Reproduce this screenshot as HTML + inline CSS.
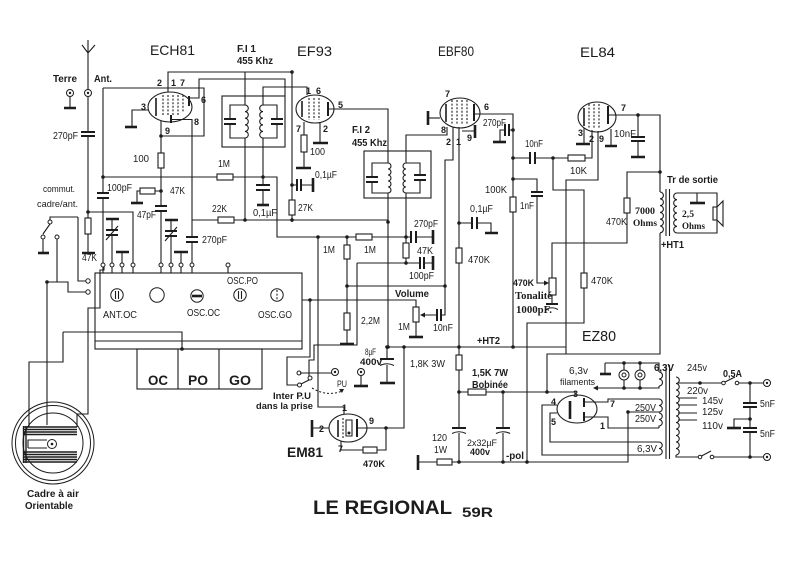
<!DOCTYPE html>
<html><head><meta charset="utf-8">
<style>
html,body{margin:0;padding:0;background:#fff;}
svg{display:block}
.w{fill:none;stroke:#1c1c1c;stroke-width:1.1}
.g{fill:none;stroke:#1c1c1c;stroke-width:2.6}
.p{fill:none;stroke:#1c1c1c;stroke-width:2}
.r{fill:#fff;stroke:#1c1c1c;stroke-width:1.1}
.d{fill:#1c1c1c}
.k{fill:none;stroke:#1c1c1c;stroke-width:1}
.h{fill:none;stroke:#1c1c1c;stroke-width:1.1;stroke-dasharray:2,1.6}
text{font-family:"Liberation Sans",Arial,sans-serif;fill:#1c1c1c}
.s{font-family:"Liberation Serif","DejaVu Serif",serif}
.b{font-weight:bold}
.n{font-weight:bold;font-size:9px}
</style></head><body>
<svg width="800" height="562" viewBox="0 0 800 562" xmlns="http://www.w3.org/2000/svg">
<rect x="0" y="0" width="800" height="562" fill="#fff"/>

<!-- ===== Antenna / terre ===== -->
<path class="w" d="M88,40 V89.5 M82,45 L88,53 L95,45"/>
<circle cx="88" cy="93" r="3.5" class="k"/><circle cx="88" cy="93" r="1.2" class="d"/>
<circle cx="70" cy="93" r="3.5" class="k"/><circle cx="70" cy="93" r="1.2" class="d"/>
<path class="w" d="M70,96.5 V108 M88,96.5 V132 M88,136 V218 M88,212 H133 V263 M88,234 V252"/>
<path class="g" d="M64,108 H76 M82,253 H95"/>
<path class="p" d="M81,132 H95 M81,136 H95"/>
<rect class="r" x="85" y="218" width="6" height="16"/>

<!-- commut switch -->
<path class="w" d="M78,217 H50 V220 M78,217 V281 H85.5 M57,239.5 V282 M47,282 H68 V292 H85.5 M47,282 V425 M43,239.5 V253 M50,224 L43,234"/>
<circle cx="50" cy="222" r="2" class="k"/>
<circle cx="43" cy="237" r="2" class="k"/>
<circle cx="57" cy="237" r="2" class="k"/>
<circle cx="88" cy="281" r="2.2" class="k"/>
<circle cx="88" cy="292" r="2.2" class="k"/>
<path class="g" d="M38,253 H49"/>

<!-- cadre wires -->
<path class="w" d="M63,332 H182 V349 M63,332 V362 H29 V427 M104,267 V270 H100 V308 H88 V414 H77 V427"/>

<!-- cadre -->
<circle cx="53" cy="443" r="41" class="k"/>
<circle cx="53" cy="443" r="37.5" class="k"/>
<circle cx="53" cy="443" r="30" class="k"/>
<path fill="none" stroke="#1c1c1c" stroke-width="1.4" d="M23,427 H77 M23,429.5 H77 M23,432 H77 M23,434.5 H77 M23,452 H77 M23,454.5 H77 M23,457 H77 M23,459.5 H77 M23,462 H77 M23.5,426 V463 M26,426 V463"/>
<path class="w" d="M28,448 V440 H47 M28,448 H47"/>
<circle cx="52" cy="444" r="4.5" class="k"/><circle cx="52" cy="444" r="1.3" class="d"/>

<!-- switch box -->
<rect class="w" x="95" y="273" width="207" height="76"/>
<path class="w" d="M95,341 H302"/>
<circle cx="117" cy="295" r="6.2" class="k"/><path class="w" d="M115.5,291 V299 M118.5,291 V299"/>
<circle cx="157" cy="295" r="7.2" class="k"/>
<circle cx="197" cy="296" r="6.2" class="k"/><path class="g" d="M192,296 H202"/>
<circle cx="240" cy="295" r="6.2" class="k"/><path class="w" d="M238.5,291 V299 M241.5,291 V299"/>
<circle cx="277" cy="295" r="6.2" class="k"/><path class="h" d="M277,290 V300"/>

<!-- terminals -->
<g class="k">
<circle cx="103" cy="265" r="2"/><circle cx="112" cy="265" r="2"/><circle cx="122" cy="265" r="2"/><circle cx="133" cy="265" r="2"/>
<circle cx="161" cy="265" r="2"/><circle cx="171" cy="265" r="2"/><circle cx="181" cy="265" r="2"/><circle cx="192" cy="265" r="2"/>
<circle cx="228" cy="265" r="2"/>
</g>
<path class="w" d="M103,267 V273 M112,267 V273 M122,267 V273 M133,267 V273 M161,267 V273 M171,267 V273 M181,267 V273 M192,267 V273 M228,267 V273"/>

<!-- OC PO GO -->
<rect class="w" x="137" y="349" width="125" height="40"/>
<path class="w" d="M178,349 V389 M219,349 V389"/>

<!-- ===== ECH81 ===== -->
<ellipse cx="170" cy="107" rx="22" ry="15" class="w"/>
<path fill="none" stroke="#1c1c1c" stroke-width="1.6" d="M156,98 V116"/>
<path class="h" d="M163,95 V116 M168,95 V116 M173,95 V116 M178,95 V116 M183,95 V113"/>
<path class="p" d="M189,96 V106 M171,115 V123"/>
<path class="w" d="M171,119.5 H192 M168,92 V72 H292 M245,72 V105 M189,98 H199 V79 H285 V96 M103,88 H204 V136 H161"/>
<path class="w" d="M148,110 H132 V126"/><path class="g" d="M125,127 H137"/>
<path class="w" d="M161,121 V153 M161,168 V206 M161,211 V263"/>
<rect class="r" x="158" y="153" width="6" height="15"/>
<path class="p" d="M155,206 H167 M155,211 H167"/>
<path class="w" d="M192,119 V237 M192,242 V263"/>
<path class="p" d="M186,237 H198 M186,242 H198"/>
<path class="w" d="M161,191 H155 M140,191 H137 V202"/>
<rect class="r" x="140" y="188" width="15" height="6"/>
<path class="g" d="M131,203 H143"/>
<path class="w" d="M103,88 V193 M103,198 V263"/>
<path class="p" d="M97,193 H109 M97,198 H109"/>
<path class="w" d="M103,177 H217 M233,177 H277 V237 H356 M372,237 H411 M416,237 H433"/>
<rect class="r" x="217" y="174" width="16" height="6"/>
<rect class="r" x="356" y="234" width="16" height="6"/>
<path class="p" d="M411,231 V243 M416,231 V243"/>
<path class="g" d="M433,230 V244"/>
<path class="w" d="M263,138 V185 M263,190 V204"/>
<path class="p" d="M256,185 H270 M256,190 H270"/>
<path class="g" d="M257,205 H269"/>
<path class="w" d="M192,220 H218 M234,220 H388 M245,138 V220"/>
<rect class="r" x="218" y="217" width="16" height="6"/>
<!-- trimmers & grounds -->
<path class="g" d="M106,219 H119 M165,220 H178 M116,252 H129 M174,252 H188"/>
<path class="w" d="M112,219 V230 M112,235 V263 M171,220 V231 M171,236 V263 M122,252 V263 M181,252 V263 M106,240 L118,226 M165,241 L177,227"/>
<path class="p" d="M106,230 H118 M106,235 H118 M165,231 H177 M165,236 H177"/>

<!-- FI1 -->
<rect class="w" x="222" y="96" width="63" height="51"/>
<path class="w" d="M245,105 H230 V119 M230,124 V138 H245 M263,105 H277 V119 M277,124 V138 H263 M263,105 V87 H307 V95"/>
<path class="p" d="M224,119 H236 M224,124 H236 M271,119 H283 M271,124 H283"/>
<path class="w" d="M245,105 a3.3,3.3 0 0 1 0,6.6 a3.3,3.3 0 0 1 0,6.6 a3.3,3.3 0 0 1 0,6.6 a3.3,3.3 0 0 1 0,6.6 a3.3,3.3 0 0 1 0,6.6"/>
<path class="w" d="M263,105 a3.3,3.3 0 0 0 0,6.6 a3.3,3.3 0 0 0 0,6.6 a3.3,3.3 0 0 0 0,6.6 a3.3,3.3 0 0 0 0,6.6 a3.3,3.3 0 0 0 0,6.6"/>

<!-- ===== EF93 ===== -->
<ellipse cx="315" cy="109" rx="19" ry="14" class="w"/>
<path fill="none" stroke="#1c1c1c" stroke-width="1.6" d="M302,101 V117"/>
<path class="h" d="M309,98 V120 M314,98 V120 M319,98 V120"/>
<path class="p" d="M328,102 V116"/>
<path class="w" d="M328,109 H388 V163 M304,122 V135 M304,152 V167 M320,122 V143 M292,72 V200 M292,215 V222 M292,185 H297 M301,185 H313"/>
<rect class="r" x="301" y="135" width="6" height="17"/>
<rect class="r" x="289" y="200" width="6" height="15"/>
<path class="g" d="M296,168 H311 M313,143 H328 M313,178 V192"/>
<path class="p" d="M297,179 V191 M301,179 V191"/>

<!-- FI2 -->
<rect class="w" x="364" y="151" width="67" height="47"/>
<path class="w" d="M388,163 H372 V177 M372,182 V193 H388 M406,163 H420 V175 M420,180 V193 H406"/>
<path class="p" d="M366,177 H378 M366,182 H378 M414,175 H426 M414,180 H426"/>
<path class="w" d="M388,163 a3,3 0 0 1 0,6 a3,3 0 0 1 0,6 a3,3 0 0 1 0,6 a3,3 0 0 1 0,6 a3,3 0 0 1 0,6"/>
<path class="w" d="M406,163 a3,3 0 0 0 0,6 a3,3 0 0 0 0,6 a3,3 0 0 0 0,6 a3,3 0 0 0 0,6 a3,3 0 0 0 0,6"/>
<path class="w" d="M388,193 V347 M406,163 V135 H447 V127 M406,193 V243 M406,258 V263 M357,263 H420 M424,263 H433"/>
<rect class="r" x="403" y="243" width="6" height="15"/>
<path class="p" d="M420,257 V269 M424,257 V269"/>
<path class="g" d="M433,256 V270"/>
<path class="w" d="M347,237 V245 M347,259 V313 M347,330 V343 M347,286 H445"/>
<rect class="r" x="344" y="245" width="6" height="14"/>
<rect class="r" x="344" y="313" width="6" height="17"/>
<path class="g" d="M340,344 H354"/>

<!-- volume -->
<path class="w" d="M453,127 V160 H445 V315 H441 M437,315 H423 M302,300 H416 V307 M416,322 V336"/>
<path class="p" d="M437,309 V321 M441,309 V321"/>
<polygon points="420,315 425,312.5 425,317.5" class="d"/>
<rect class="r" x="413" y="307" width="6" height="15"/>
<path class="g" d="M409,337 H423"/>

<!-- left vertical wires / inter PU -->
<path class="w" d="M318,237 V407 H344 V414 M357,263 V345 H314 V360 H309 V376 M310,300 V357 H287 V385 H297.5 M300,373 H331.5"/>
<circle cx="299" cy="373" r="2" class="k"/>
<circle cx="310" cy="378" r="2" class="k"/>
<circle cx="299.5" cy="385" r="2" class="k"/>
<path class="w" d="M301,384 L309,380"/>
<path class="w" stroke-dasharray="2,2" d="M312,388 Q327,397 342,391"/>
<polygon points="344,389 339,389 342,393" class="d"/>
<circle cx="335" cy="372" r="3.5" class="k"/><circle cx="335" cy="372" r="1.2" class="d"/>
<circle cx="361" cy="372" r="3.5" class="k"/><circle cx="361" cy="372" r="1.2" class="d"/>
<path class="w" d="M361,375.5 V385"/><path class="g" d="M354,386 H368"/>

<!-- EM81 -->
<ellipse cx="348" cy="428" rx="19" ry="14" class="w"/>
<path fill="none" stroke="#1c1c1c" stroke-width="1.6" d="M338,420 V437"/>
<path class="h" d="M343,418 V438"/>
<path class="w" d="M346,420 H352 V436 H346 Z"/>
<path class="p" d="M357,419 V437"/>
<circle cx="349" cy="433" r="1.5" class="d"/>
<path class="w" d="M329,428 H313 M357,428 H404 V347 M386,428 V450 H377 M363,450 H341 V441"/>
<path class="g" d="M312,420 V437"/>
<rect class="r" x="363" y="447" width="14" height="6"/>

<!-- 8uF -->
<path class="w" d="M387,347 V359 M387,365 V382"/>
<path class="p" d="M380,359 H394"/>
<path class="w" stroke-width="1.6" d="M380,365.5 Q387,362 394,365.5"/>
<path class="g" d="M380,383 H395"/>

<!-- HT2 -->
<path class="w" d="M387,347 H566"/>

<!-- ===== EBF80 ===== -->
<ellipse cx="460" cy="113" rx="20" ry="15" class="w"/>
<path fill="none" stroke="#1c1c1c" stroke-width="1.6" d="M446,104 V122"/>
<path class="h" d="M452,100 V124 M457,100 V124 M462,100 V124 M467,100 V124"/>
<path class="p" d="M474,104 V121"/>
<path class="w" d="M440,118 H428"/><path class="g" d="M428,111 V125"/>
<path class="w" d="M474,114 H513 V197 M513,212 V347 M513,130 H509 M505,130 H500 V142"/>
<path class="p" d="M509,124 V136 M505,124 V136"/>
<path class="g" d="M493,142 H506"/>
<rect class="r" x="510" y="197" width="6" height="15"/>
<path class="w" d="M459,127 V248 M459,263 V355 M459,370 V428 M459,433 V462 M459,223 H472 M477,223 H491 V233 M462,131 H474"/>
<rect class="r" x="456" y="248" width="6" height="15"/>
<path class="p" d="M472,217 V229 M477,217 V229"/>
<path class="g" d="M485,233 H498 M475,125 V138"/>

<!-- coupling to EL84 -->
<path class="w" d="M513,158 H530 M535,158 H568 M585,158 H592 V130 M553,158 V190 H584 V273 M584,288 V323 H527 V462"/>
<path class="p" d="M530,152 V164 M535,152 V164"/>
<rect class="r" x="568" y="155" width="17" height="6"/>
<rect class="r" x="581" y="273" width="6" height="15"/>
<!-- tone -->
<path class="w" d="M513,179 H537 V192 M537,196 V283 H545 M552,278 V243 H627 V213 M627,198 V172 H660 M552,295 V304"/>
<path class="p" d="M531,192 H543 M531,196 H543 M546,304 H558"/>
<path class="w" stroke-width="1.6" d="M546,309.5 Q552,306 558,309.5"/>
<polygon points="549,283 544,280.5 544,285.5" class="d"/>
<rect class="r" x="549" y="278" width="7" height="17"/>
<rect class="r" x="624" y="198" width="6" height="15"/>

<!-- ===== EL84 ===== -->
<ellipse cx="597" cy="117" rx="19" ry="15" class="w"/>
<path fill="none" stroke="#1c1c1c" stroke-width="1.6" d="M584,108 V126"/>
<path class="h" d="M589,104 V128 M594,104 V128 M599,104 V128"/>
<path class="p" d="M608,106 V124"/>
<path class="w" d="M608,115 H660 V192 M638,115 V137 M638,141 V156 M584,128 V143 M611,129 V146 M598,131 V180 H566 V354"/>
<path class="p" d="M631,137 H645 M631,141 H645"/>
<path class="g" d="M631,157 H645 M576,144 H590 M605,146 H617"/>

<!-- output transformer -->
<path class="w" d="M660,192 a3.4,3.4 0 0 1 0,6.8 a3.4,3.4 0 0 1 0,6.8 a3.4,3.4 0 0 1 0,6.8 a3.4,3.4 0 0 1 0,6.8 a3.4,3.4 0 0 1 0,6.8 a3.4,3.4 0 0 1 0,6.8"/>
<path class="w" d="M677,193 a3.33,3.33 0 0 0 0,6.66 a3.33,3.33 0 0 0 0,6.66 a3.33,3.33 0 0 0 0,6.66 a3.33,3.33 0 0 0 0,6.66 a3.33,3.33 0 0 0 0,6.66 a3.33,3.33 0 0 0 0,6.66"/>
<path class="w" stroke-width="1.3" d="M666,189 V236 M669.5,189 V236"/>
<path class="w" d="M660,233 V354 H547 V392 M677,193 H717 V207 M677,233 H717 V220 M697,193 V203"/>
<path class="g" d="M690,203 H705"/>
<rect class="r" x="713" y="207" width="4" height="13"/>
<polygon points="717,207 723,201 723,226 717,220" fill="#fff" stroke="#1c1c1c" stroke-width="1.1"/>

<!-- ===== power supply ===== -->
<rect class="r" x="456" y="355" width="6" height="15"/>
<path class="p" d="M452,428 H466"/>
<path class="w" stroke-width="1.6" d="M452,433.5 Q459,430 466,433.5"/>
<path class="w" d="M459,392 H468 M486,392 H575 V395 M503,392 V428 M503,433 V462 M418,462 H437 M452,462 H628 V412 H659"/>
<rect class="r" x="468" y="389" width="18" height="6"/>
<path class="p" d="M496,428 H510"/>
<path class="w" stroke-width="1.6" d="M496,433.5 Q503,430 510,433.5"/>
<rect class="r" x="437" y="459" width="15" height="6"/>
<path class="g" d="M418,455 V470"/>

<!-- EZ80 -->
<ellipse cx="577" cy="409" rx="20" ry="14" class="w"/>
<path class="g" d="M570,401 V419"/>
<path class="p" d="M584,398 V407 M584,412 V421"/>
<path class="w" d="M584,402 H608 V399 H659 M584,417 H608 V428 H659 M557,405 H542 V455 H659 M557,413 H550 V442 H659"/>

<!-- filament box -->
<path class="w" d="M605,363 H659 V372 M659,386 V388 H597 M624,363 V370 M624,380 V388 M640,363 V370 M640,380 V388 M605,363 V373"/>
<polygon points="593,388 598,385.5 598,390.5" class="d"/>
<circle cx="624" cy="375" r="5" class="k"/><circle cx="624" cy="375" r="2" class="k"/>
<circle cx="640" cy="375" r="5" class="k"/><circle cx="640" cy="375" r="2" class="k"/>
<path class="g" d="M600,374 H611"/>

<!-- power transformer secondaries -->
<path class="w" d="M659,372 a3.5,3.5 0 0 1 0,7 a3.5,3.5 0 0 1 0,7"/>
<path class="w" d="M659,399 a3.25,3.25 0 0 1 0,6.5 a3.25,3.25 0 0 1 0,6.5"/>
<path class="w" d="M659,413 a3.25,3.25 0 0 1 0,6.5 a3.25,3.25 0 0 1 0,6.5 V428"/>
<path class="w" d="M659,442 a3.25,3.25 0 0 1 0,6.5 a3.25,3.25 0 0 1 0,6.5"/>
<path class="w" stroke-width="1.3" d="M666,365 V459 M669.5,365 V459"/>
<path class="w" d="M676,377 a3.25,3.25 0 0 1 0,6.5 a3.25,3.25 0 0 1 0,6.5 a3.25,3.25 0 0 1 0,6.5 a3.25,3.25 0 0 1 0,6.5 a3.25,3.25 0 0 1 0,6.5 a3.25,3.25 0 0 1 0,6.5 a3.25,3.25 0 0 1 0,6.5 a3.25,3.25 0 0 1 0,6.5 a3.25,3.25 0 0 1 0,6.5 a3.25,3.25 0 0 1 0,6.5 a3.25,3.25 0 0 1 0,6.5 a3.25,3.25 0 0 1 0,6.5"/>
<path class="w" d="M678,383 H722 M678,398 H697 M678,405 H697 M678,413 H697 M678,420 H697 M739,383 H763.5 M750,383 V403 M750,407 V428 M750,432 V457 M750,419 H734 V428 M676,455 V457 H698 M714,457 H763.5 M725,382 L735,377"/>
<circle cx="723.5" cy="383" r="1.8" class="k"/><circle cx="737" cy="383" r="1.8" class="k"/>
<path class="p" d="M743,403 H757 M743,407 H757 M743,428 H757 M743,432 H757"/>
<path class="g" d="M727,428 H741"/>
<circle cx="700" cy="457" r="1.8" class="k"/><circle cx="712" cy="457" r="1.8" class="k"/>
<path class="w" d="M701.5,456 L711,451"/>
<circle cx="767" cy="383" r="3.5" class="k"/><circle cx="767" cy="383" r="1.2" class="d"/>
<circle cx="767" cy="457" r="3.5" class="k"/><circle cx="767" cy="457" r="1.2" class="d"/>

<!-- junction dots -->
<g class="d">
<circle cx="88" cy="212" r="1.8"/><circle cx="161" cy="136" r="1.8"/><circle cx="161" cy="191" r="1.8"/>
<circle cx="103" cy="177" r="1.8"/><circle cx="263" cy="177" r="1.8"/><circle cx="245" cy="220" r="1.8"/>
<circle cx="292" cy="72" r="1.8"/><circle cx="292" cy="185" r="1.8"/><circle cx="292" cy="220" r="1.8"/>
<circle cx="388" cy="222" r="1.8"/><circle cx="318" cy="237" r="1.8"/><circle cx="347" cy="237" r="1.8"/>
<circle cx="406" cy="237" r="1.8"/><circle cx="406" cy="263" r="1.8"/><circle cx="347" cy="286" r="1.8"/>
<circle cx="445" cy="286" r="1.8"/><circle cx="459" cy="223" r="1.8"/><circle cx="513" cy="130" r="1.8"/>
<circle cx="513" cy="158" r="1.8"/><circle cx="513" cy="179" r="1.8"/><circle cx="553" cy="158" r="1.8"/>
<circle cx="638" cy="115" r="1.8"/><circle cx="660" cy="172" r="1.8"/><circle cx="387" cy="347" r="1.8"/>
<circle cx="388" cy="347" r="1.8"/><circle cx="404" cy="347" r="1.8"/><circle cx="459" cy="347" r="1.8"/>
<circle cx="513" cy="347" r="1.8"/><circle cx="459" cy="392" r="1.8"/><circle cx="503" cy="392" r="1.8"/>
<circle cx="547" cy="392" r="1.8"/><circle cx="459" cy="462" r="1.8"/><circle cx="503" cy="462" r="1.8"/>
<circle cx="527" cy="462" r="1.8"/><circle cx="386" cy="428" r="1.8"/><circle cx="700" cy="383" r="1.8"/>
<circle cx="750" cy="383" r="1.8"/><circle cx="750" cy="419" r="1.8"/><circle cx="750" cy="457" r="1.8"/>
<circle cx="624" cy="363" r="1.8"/><circle cx="640" cy="363" r="1.8"/><circle cx="624" cy="388" r="1.8"/>
<circle cx="640" cy="388" r="1.8"/><circle cx="47" cy="282" r="1.8"/><circle cx="182" cy="349" r="1.8"/>
<circle cx="628" cy="412" r="1.8"/><circle cx="310" cy="300" r="1.8"/>
</g>

<!-- ===== TEXT ===== -->
<text x="150" y="55" font-size="14" textLength="45" lengthAdjust="spacingAndGlyphs">ECH81</text>
<text x="237" y="52" font-size="10" class="b" textLength="19" lengthAdjust="spacingAndGlyphs">F.I 1</text>
<text x="237" y="64" font-size="10" class="b" textLength="36" lengthAdjust="spacingAndGlyphs">455 Khz</text>
<text x="297" y="56" font-size="14" textLength="35" lengthAdjust="spacingAndGlyphs">EF93</text>
<text x="438" y="56" font-size="14" textLength="36" lengthAdjust="spacingAndGlyphs">EBF80</text>
<text x="580" y="57" font-size="14" textLength="35" lengthAdjust="spacingAndGlyphs">EL84</text>
<text x="53" y="82" font-size="10" class="b" textLength="24" lengthAdjust="spacingAndGlyphs">Terre</text>
<text x="94" y="82" font-size="10" class="b" textLength="18" lengthAdjust="spacingAndGlyphs">Ant.</text>
<text x="53" y="139" font-size="10" textLength="25" lengthAdjust="spacingAndGlyphs">270pF</text>
<text x="157" y="86" class="n">2</text><text x="171" y="86" class="n">1</text><text x="180" y="86" class="n">7</text>
<text x="201" y="103" class="n">6</text><text x="141" y="110" class="n">3</text><text x="194" y="125" class="n">8</text><text x="165" y="134" class="n">9</text>
<text x="133" y="162" font-size="10" textLength="16" lengthAdjust="spacingAndGlyphs">100</text>
<text x="218" y="167" font-size="10" textLength="12" lengthAdjust="spacingAndGlyphs">1M</text>
<text x="43" y="192" font-size="9.5" textLength="32" lengthAdjust="spacingAndGlyphs">commut.</text>
<text x="37" y="207" font-size="9.5" textLength="41" lengthAdjust="spacingAndGlyphs">cadre/ant.</text>
<text x="107" y="191" font-size="10" textLength="25" lengthAdjust="spacingAndGlyphs">100pF</text>
<text x="170" y="194" font-size="10" textLength="15" lengthAdjust="spacingAndGlyphs">47K</text>
<text x="212" y="212" font-size="10" textLength="15" lengthAdjust="spacingAndGlyphs">22K</text>
<text x="253" y="216" font-size="10" textLength="24" lengthAdjust="spacingAndGlyphs">0,1µF</text>
<text x="137" y="218" font-size="10" textLength="19" lengthAdjust="spacingAndGlyphs">47pF</text>
<text x="202" y="243" font-size="10" textLength="25" lengthAdjust="spacingAndGlyphs">270pF</text>
<text x="82" y="261" font-size="10" textLength="15" lengthAdjust="spacingAndGlyphs">47K</text>
<text x="227" y="284" font-size="10" textLength="31" lengthAdjust="spacingAndGlyphs">OSC.PO</text>
<text x="103" y="318" font-size="10" textLength="34" lengthAdjust="spacingAndGlyphs">ANT.OC</text>
<text x="187" y="316" font-size="10" textLength="33" lengthAdjust="spacingAndGlyphs">OSC.OC</text>
<text x="258" y="318" font-size="10" textLength="34" lengthAdjust="spacingAndGlyphs">OSC.GO</text>
<text x="148" y="385" font-size="14" class="b" textLength="20" lengthAdjust="spacingAndGlyphs">OC</text>
<text x="188" y="385" font-size="14" class="b" textLength="20" lengthAdjust="spacingAndGlyphs">PO</text>
<text x="229" y="385" font-size="14" class="b" textLength="22" lengthAdjust="spacingAndGlyphs">GO</text>
<text x="27" y="497" font-size="10" class="b" textLength="52" lengthAdjust="spacingAndGlyphs">Cadre à air</text>
<text x="25" y="509" font-size="10" class="b" textLength="48" lengthAdjust="spacingAndGlyphs">Orientable</text>
<text x="306" y="94" class="n">1</text><text x="316" y="94" class="n">6</text><text x="338" y="108" class="n">5</text>
<text x="296" y="132" class="n">7</text><text x="323" y="132" class="n">2</text>
<text x="310" y="155" font-size="10" textLength="15" lengthAdjust="spacingAndGlyphs">100</text>
<text x="315" y="178" font-size="10" textLength="22" lengthAdjust="spacingAndGlyphs">0,1µF</text>
<text x="298" y="211" font-size="10" textLength="15" lengthAdjust="spacingAndGlyphs">27K</text>
<text x="352" y="133" font-size="10" class="b" textLength="18" lengthAdjust="spacingAndGlyphs">F.I 2</text>
<text x="352" y="146" font-size="10" class="b" textLength="35" lengthAdjust="spacingAndGlyphs">455 Khz</text>
<text x="445" y="97" class="n">7</text><text x="484" y="110" class="n">6</text><text x="441" y="133" class="n">8</text>
<text x="446" y="145" class="n">2</text><text x="456" y="145" class="n">1</text><text x="467" y="141" class="n">9</text>
<text x="483" y="126" font-size="10" textLength="23" lengthAdjust="spacingAndGlyphs">270pF</text>
<text x="525" y="147" font-size="10" textLength="18" lengthAdjust="spacingAndGlyphs">10nF</text>
<text x="485" y="193" font-size="10" textLength="22" lengthAdjust="spacingAndGlyphs">100K</text>
<text x="520" y="209" font-size="10" textLength="14" lengthAdjust="spacingAndGlyphs">1nF</text>
<text x="470" y="212" font-size="10" textLength="23" lengthAdjust="spacingAndGlyphs">0,1µF</text>
<text x="468" y="263" font-size="10" textLength="22" lengthAdjust="spacingAndGlyphs">470K</text>
<text x="570" y="174" font-size="10" textLength="17" lengthAdjust="spacingAndGlyphs">10K</text>
<text x="513" y="286" font-size="9" class="b" textLength="21" lengthAdjust="spacingAndGlyphs">470K</text>
<text x="515" y="299" font-size="10" class="s b" textLength="37" lengthAdjust="spacingAndGlyphs">Tonalité</text>
<text x="516" y="313" font-size="10" class="s b" textLength="36" lengthAdjust="spacingAndGlyphs">1000pF.</text>
<text x="591" y="284" font-size="10" textLength="22" lengthAdjust="spacingAndGlyphs">470K</text>
<text x="606" y="225" font-size="10" textLength="21" lengthAdjust="spacingAndGlyphs">470K</text>
<text x="614" y="137" font-size="10" textLength="22" lengthAdjust="spacingAndGlyphs">10nF</text>
<text x="621" y="111" class="n">7</text><text x="578" y="136" class="n">3</text><text x="589" y="142" class="n">2</text><text x="599" y="142" class="n">9</text>
<text x="667" y="183" font-size="10" class="b" textLength="51" lengthAdjust="spacingAndGlyphs">Tr de sortie</text>
<text x="635" y="214" font-size="9" class="s b" textLength="20" lengthAdjust="spacingAndGlyphs">7000</text>
<text x="633" y="226" font-size="9" class="s b" textLength="24" lengthAdjust="spacingAndGlyphs">Ohms</text>
<text x="682" y="217" font-size="9" class="s b" textLength="12" lengthAdjust="spacingAndGlyphs">2,5</text>
<text x="682" y="229" font-size="9" class="s b" textLength="23" lengthAdjust="spacingAndGlyphs">Ohms</text>
<text x="661" y="248" font-size="10" class="b" textLength="23" lengthAdjust="spacingAndGlyphs">+HT1</text>
<text x="582" y="341" font-size="15" textLength="34" lengthAdjust="spacingAndGlyphs">EZ80</text>
<text x="323" y="253" font-size="10" textLength="12" lengthAdjust="spacingAndGlyphs">1M</text>
<text x="364" y="253" font-size="10" textLength="12" lengthAdjust="spacingAndGlyphs">1M</text>
<text x="414" y="227" font-size="10" textLength="24" lengthAdjust="spacingAndGlyphs">270pF</text>
<text x="417" y="254" font-size="10" textLength="16" lengthAdjust="spacingAndGlyphs">47K</text>
<text x="409" y="279" font-size="10" textLength="25" lengthAdjust="spacingAndGlyphs">100pF</text>
<text x="395" y="297" font-size="10" class="b" textLength="34" lengthAdjust="spacingAndGlyphs">Volume</text>
<text x="361" y="324" font-size="10" textLength="19" lengthAdjust="spacingAndGlyphs">2,2M</text>
<text x="398" y="330" font-size="10" textLength="12" lengthAdjust="spacingAndGlyphs">1M</text>
<text x="433" y="331" font-size="10" textLength="20" lengthAdjust="spacingAndGlyphs">10nF</text>
<text x="477" y="344" font-size="10" class="b" textLength="23" lengthAdjust="spacingAndGlyphs">+HT2</text>
<text x="365" y="355" font-size="9.5" textLength="11" lengthAdjust="spacingAndGlyphs">8µF</text>
<text x="360" y="365" font-size="9.5" class="b" textLength="22" lengthAdjust="spacingAndGlyphs">400v</text>
<text x="410" y="367" font-size="10" textLength="35" lengthAdjust="spacingAndGlyphs">1,8K 3W</text>
<text x="472" y="376" font-size="10" class="b" textLength="36" lengthAdjust="spacingAndGlyphs">1,5K 7W</text>
<text x="472" y="388" font-size="10" class="b" textLength="36" lengthAdjust="spacingAndGlyphs">Bobinée</text>
<text x="337" y="387" font-size="9.5" textLength="10" lengthAdjust="spacingAndGlyphs">PU</text>
<text x="273" y="399" font-size="9.5" class="b" textLength="38" lengthAdjust="spacingAndGlyphs">Inter P.U</text>
<text x="256" y="409" font-size="9.5" class="b" textLength="57" lengthAdjust="spacingAndGlyphs">dans la prise</text>
<text x="342" y="411" class="n">1</text><text x="319" y="432" class="n">2</text><text x="369" y="424" class="n">9</text><text x="338" y="452" class="n">7</text>
<text x="287" y="457" font-size="14" class="b" textLength="36" lengthAdjust="spacingAndGlyphs">EM81</text>
<text x="363" y="467" font-size="9.5" class="b" textLength="22" lengthAdjust="spacingAndGlyphs">470K</text>
<text x="432" y="441" font-size="10" textLength="15" lengthAdjust="spacingAndGlyphs">120</text>
<text x="434" y="453" font-size="10" textLength="13" lengthAdjust="spacingAndGlyphs">1W</text>
<text x="467" y="446" font-size="9.5" textLength="30" lengthAdjust="spacingAndGlyphs">2x32µF</text>
<text x="470" y="455" font-size="9.5" class="b" textLength="20" lengthAdjust="spacingAndGlyphs">400v</text>
<text x="506" y="459" font-size="10" class="b" textLength="18" lengthAdjust="spacingAndGlyphs">-pol</text>
<text x="313" y="514" font-size="19" class="b" textLength="139" lengthAdjust="spacingAndGlyphs">LE REGIONAL</text>
<text x="462" y="517" font-size="14" class="b" textLength="31" lengthAdjust="spacingAndGlyphs">59R</text>
<text x="569" y="374" font-size="10" textLength="19" lengthAdjust="spacingAndGlyphs">6,3v</text>
<text x="560" y="385" font-size="9.5" textLength="35" lengthAdjust="spacingAndGlyphs">filaments</text>
<text x="654" y="371" font-size="10" class="b" textLength="20" lengthAdjust="spacingAndGlyphs">6,3V</text>
<text x="687" y="371" font-size="10" textLength="20" lengthAdjust="spacingAndGlyphs">245v</text>
<text x="723" y="377" font-size="10" class="b" textLength="19" lengthAdjust="spacingAndGlyphs">0,5A</text>
<text x="687" y="394" font-size="10" textLength="21" lengthAdjust="spacingAndGlyphs">220v</text>
<text x="702" y="404" font-size="10" textLength="21" lengthAdjust="spacingAndGlyphs">145v</text>
<text x="702" y="415" font-size="10" textLength="21" lengthAdjust="spacingAndGlyphs">125v</text>
<text x="702" y="429" font-size="10" textLength="21" lengthAdjust="spacingAndGlyphs">110v</text>
<text x="760" y="407" font-size="10" textLength="15" lengthAdjust="spacingAndGlyphs">5nF</text>
<text x="760" y="437" font-size="10" textLength="15" lengthAdjust="spacingAndGlyphs">5nF</text>
<text x="635" y="411" font-size="10" textLength="21" lengthAdjust="spacingAndGlyphs">250V</text>
<text x="635" y="422" font-size="10" textLength="21" lengthAdjust="spacingAndGlyphs">250V</text>
<text x="637" y="452" font-size="10" textLength="20" lengthAdjust="spacingAndGlyphs">6,3V</text>
<text x="573" y="397" class="n">3</text><text x="551" y="405" class="n">4</text><text x="551" y="425" class="n">5</text>
<text x="610" y="407" class="n">7</text><text x="600" y="429" class="n">1</text>
</svg>
</body></html>
